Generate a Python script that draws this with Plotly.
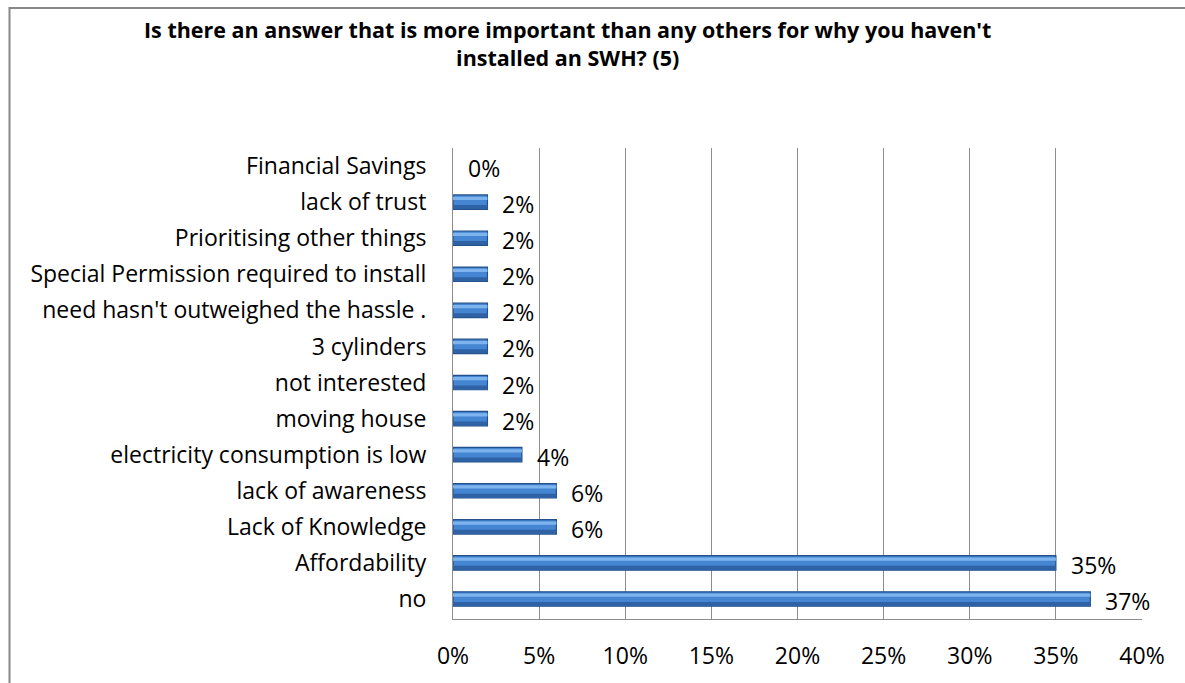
import plotly.graph_objects as go

# Survey responses, listed bottom-to-top as they appear on the category axis
categories = [
    "no",
    "Affordability",
    "Lack of Knowledge",
    "lack of awareness",
    "electricity consumption is low",
    "moving house",
    "not interested",
    "3 cylinders",
    "need hasn't outweighed the hassle .",
    "Special Permission required to install",
    "Prioritising other things",
    "lack of trust",
    "Financial Savings",
]
shares = [0.37, 0.35, 0.06, 0.06, 0.04, 0.02, 0.02, 0.02, 0.02, 0.02, 0.02, 0.02, 0.0]
x_ticks = [0, 0.05, 0.10, 0.15, 0.20, 0.25, 0.30, 0.35, 0.40]
x_tick_labels = ["0%", "5%", "10%", "15%", "20%", "25%", "30%", "35%", "40%"]
title_text = ("Is there an answer that is more important than any others for why you haven't<br>"
              "installed an SWH? (5)")

FONT = "Open Sans, sans-serif"
LABEL_SIZE = 23
W, H = 1185, 683
L, R, T, B = 453, 43, 148, 62
pw, ph = W - L - R, H - T - B


def px_x(x):
    return (x - L) / pw


def px_y(y):
    return 1 + (T - y) / ph


fig = go.Figure()

edge_w = [1.2 if v > 0 else 0 for v in shares]

# main cylinder body
fig.add_trace(go.Bar(
    y=categories, x=shares, orientation="h", width=0.4,
    marker=dict(color="#4585D2", line=dict(color="#23508A", width=edge_w)),
    hoverinfo="skip", showlegend=False,
))
# lower shading
fig.add_trace(go.Bar(
    y=categories, x=shares, orientation="h", width=0.11, offset=-0.19,
    marker=dict(color="#2E62A4", line=dict(width=0)),
    hoverinfo="skip", showlegend=False,
))
# glossy highlight band
fig.add_trace(go.Bar(
    y=categories, x=shares, orientation="h", width=0.09, offset=0.06,
    marker=dict(color="#7DB4EE", line=dict(width=0)),
    hoverinfo="skip", showlegend=False,
))

# value labels
for cat, v in zip(categories, shares):
    fig.add_annotation(
        x=v, y=cat, xref="x", yref="y", text=f"{v*100:.0f}%",
        showarrow=False, xanchor="left", xshift=13, yshift=-2,
        font=dict(family=FONT, size=LABEL_SIZE, color="#000000"),
    )

# bold two-line title
fig.add_annotation(
    x=px_x(567), y=px_y(13), xref="paper", yref="paper", text=title_text,
    showarrow=False, xanchor="center", yanchor="top", align="center", borderpad=0,
    font=dict(family=FONT, size=21.5, color="#000000", weight="bold"),
)

# chart frame
fig.add_shape(
    type="rect", xref="paper", yref="paper",
    x0=px_x(9.5), x1=px_x(1200), y0=px_y(700), y1=px_y(7.5),
    line=dict(color="#878787", width=2), fillcolor="rgba(0,0,0,0)", layer="below",
)

fig.update_layout(
    width=W, height=H,
    margin=dict(l=L, r=R, t=T, b=B),
    paper_bgcolor="white", plot_bgcolor="white",
    barmode="overlay",
    font=dict(family=FONT, size=LABEL_SIZE, color="#000000"),
    xaxis=dict(
        range=[0, 0.40], tickvals=x_ticks, ticktext=x_tick_labels,
        showgrid=True, gridcolor="#8C8C8C", gridwidth=1,
        showline=True, linecolor="#8C8C8C", linewidth=1,
        zeroline=False, ticks="", ticklabelstandoff=16,
        tickfont=dict(family=FONT, size=LABEL_SIZE),
    ),
    yaxis=dict(
        categoryorder="array", categoryarray=categories,
        showgrid=False, showline=True, linecolor="#8C8C8C", linewidth=1,
        ticks="", ticklabelstandoff=21,
        tickfont=dict(family=FONT, size=LABEL_SIZE),
    ),
)

fig.write_html("out.html")
